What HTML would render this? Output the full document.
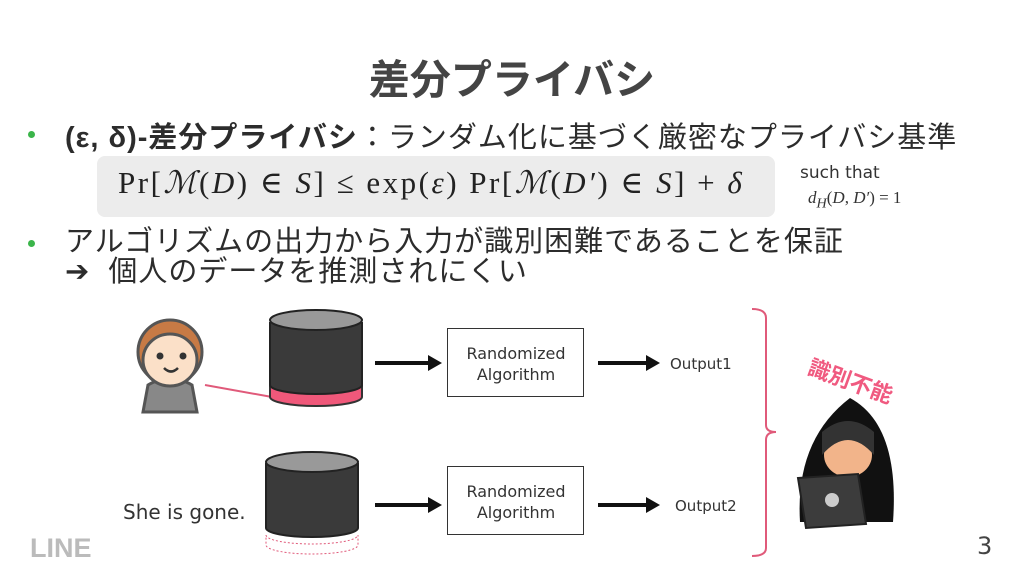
<!DOCTYPE html>
<html><head><meta charset="utf-8"><style>
body{margin:0;width:1024px;height:576px;background:#fff;position:relative;overflow:hidden;font-family:"DejaVu Sans","Noto Sans CJK JP",sans-serif;color:#333}
.a{position:absolute;white-space:nowrap}
.j{font-family:"Liberation Sans","Noto Sans CJK JP",sans-serif}
.d{position:absolute;width:7px;height:7px;border-radius:50%;background:#3bb54a}
</style></head><body>
<div class="a j" style="left:0;width:1024px;text-align:center;top:46px;font-size:41px;font-weight:bold;color:#444">差分プライバシ</div>
<div class="d" style="left:28px;top:131px"></div>
<div class="a j" style="left:65px;top:114px;font-size:29px;letter-spacing:1px;color:#2c2c2c"><b>(ε, δ)-差分プライバシ</b>：ランダム化に基づく厳密なプライバシ基準</div>
<div class="a" style="left:97px;top:156px;width:678px;height:61px;background:#ececec;border-radius:8px"></div>
<div class="a" style="left:118px;top:165px;font-family:'Liberation Serif','DejaVu Serif',serif;font-size:31px;letter-spacing:2.5px;color:#222">Pr[<i>ℳ</i>(<i>D</i>) ∈ <i>S</i>] ≤ exp(<i>ε</i>) Pr[<i>ℳ</i>(<i>D′</i>) ∈ <i>S</i>] + <i>δ</i></div>
<div class="a" style="left:800px;top:163px;font-size:17px">such that</div>
<div class="a" style="left:808px;top:188px;font-size:17px;font-family:'Liberation Serif',serif"><i>d<sub>H</sub></i>(<i>D</i>, <i>D′</i>) = 1</div>
<div class="d" style="left:28px;top:240px"></div>
<div class="a j" style="left:65px;top:227px;font-size:29px;letter-spacing:1px;line-height:30px;color:#2c2c2c">アルゴリズムの出力から入力が識別困難であることを保証<br>➔&nbsp; 個人のデータを推測されにくい</div>
<svg class="a" style="left:0;top:0" width="1024" height="576">
<g stroke="#555" stroke-width="3">
<path d="M143 412 L148 385 Q170 372 192 385 L197 412 Z" fill="#888"/>
<circle cx="170" cy="352" r="32" fill="#c77a45"/>
<ellipse cx="170" cy="360" rx="27" ry="26" fill="#fbe0c8"/>
</g>
<circle cx="160" cy="356" r="3.5" fill="#333"/><circle cx="183" cy="356" r="3.5" fill="#333"/>
<path d="M164 368 Q171 375 178 368" stroke="#333" stroke-width="2.5" fill="none"/>
<line x1="205" y1="385" x2="272" y2="397" stroke="#e05a7a" stroke-width="2"/>
<path d="M270 322 L270 397 A46 9 0 0 0 362 397 L362 322" fill="#f0587a" stroke="#333" stroke-width="2"/>
<path d="M270 322 L270 385 A46 9 0 0 0 362 385 L362 322" fill="#3a3a3a" stroke="#222" stroke-width="2"/>
<ellipse cx="316" cy="320" rx="46" ry="10" fill="#999" stroke="#222" stroke-width="2"/>
<path d="M266 535 A46 9 0 0 0 358 535 L358 545 A46 9 0 0 1 266 545 Z" fill="none" stroke="#e05a7a" stroke-dasharray="2 2"/>
<path d="M266 463 L266 528 A46 9 0 0 0 358 528 L358 463" fill="#3a3a3a" stroke="#222" stroke-width="2"/>
<ellipse cx="312" cy="462" rx="46" ry="10" fill="#999" stroke="#222" stroke-width="2"/>
<g stroke="#111" stroke-width="4"><line x1="375" y1="363" x2="430" y2="363"/><line x1="598" y1="363" x2="648" y2="363"/><line x1="375" y1="505" x2="430" y2="505"/><line x1="598" y1="505" x2="648" y2="505"/></g>
<g fill="#111"><path d="M428 355 L442 363 L428 371Z"/><path d="M646 355 L660 363 L646 371Z"/><path d="M428 497 L442 505 L428 513Z"/><path d="M646 497 L660 505 L646 513Z"/></g>
<rect x="447.5" y="328.5" width="136" height="68" fill="#fff" stroke="#333"/>
<rect x="447.5" y="466.5" width="136" height="68" fill="#fff" stroke="#333"/>
<path d="M752 309 Q766 309 766 318 L766 425 Q766 432 776 432 Q766 432 766 440 L766 548 Q766 556 752 556" fill="none" stroke="#e05a7a" stroke-width="2"/>
<path d="M800 522 Q795 440 850 398 Q900 425 893 522 Z" fill="#111"/>
<ellipse cx="848" cy="455" rx="24" ry="22" fill="#f2b48a"/>
<path d="M822 455 Q848 425 874 455 L874 432 Q848 410 822 432Z" fill="#333"/>
<path d="M798 478 L858 474 L866 524 L806 528 Z" fill="#3c3c3c" stroke="#222" stroke-width="2"/>
<circle cx="832" cy="500" r="7" fill="#ccc"/>
<text x="30" y="557" font-family="Liberation Sans" font-weight="bold" font-size="27" fill="#bbb">LINE</text>
</svg>
<div class="a" style="left:448px;top:343px;width:136px;text-align:center;font-size:16px;line-height:21px">Randomized<br>Algorithm</div>
<div class="a" style="left:448px;top:481px;width:136px;text-align:center;font-size:16px;line-height:21px">Randomized<br>Algorithm</div>
<div class="a" style="left:670px;top:355px;font-size:15px">Output1</div>
<div class="a" style="left:675px;top:497px;font-size:15px">Output2</div>
<div class="a" style="left:123px;top:500px;font-size:20px">She is gone.</div>
<div class="a j" style="left:815px;top:350px;font-size:22px;font-weight:bold;color:#f05a80;transform:rotate(20deg);transform-origin:left top">識別不能</div>
<div class="a" style="left:977px;top:532px;font-size:24px;color:#444">3</div>
</body></html>
